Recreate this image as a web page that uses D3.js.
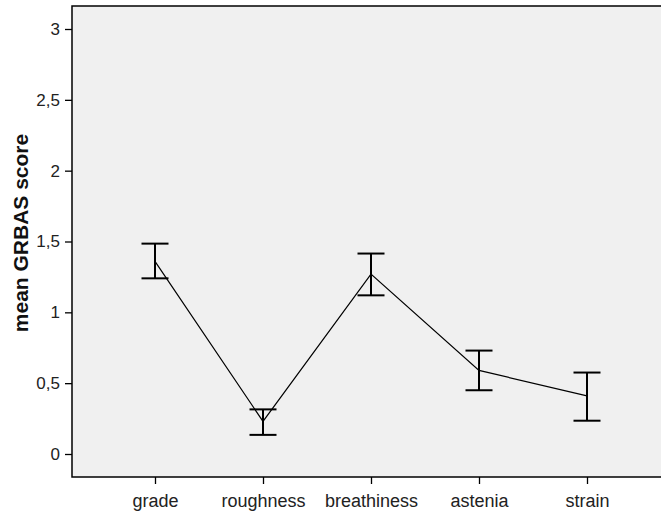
<!DOCTYPE html>
<html>
<head>
<meta charset="utf-8">
<script src="https://cdn.jsdelivr.net/npm/d3@7"></script>
<style>
  body { margin: 0; background: #fff; }
  text { font-family: "Liberation Sans", Arial, sans-serif; }
</style>
</head>
<body>
<script>
// Data
const categories = ["grade", "roughness", "breathiness", "astenia", "strain"];
const means = [1.36, 0.23, 1.27, 0.59, 0.41];
const lower = [1.24, 0.135, 1.12, 0.45, 0.235];
const upper = [1.485, 0.315, 1.415, 0.73, 0.575];
const yTicks = [0, 0.5, 1, 1.5, 2, 2.5, 3];

const width = 661, height = 517;
const plot = {left: 72, top: 6, right: 672, bottom: 477};

var svg = d3.select("body").append("svg")
    .attr("width", width)
    .attr("height", height);

const x = d3.scalePoint()
    .domain(categories)
    .range([155, 587]);

const y = d3.scaleLinear()
    .domain([0, 3])
    .range([454, 29]);

// plot background
svg.append("rect")
    .attr("x", plot.left)
    .attr("y", plot.top)
    .attr("width", plot.right - plot.left)
    .attr("height", plot.bottom - plot.top)
    .attr("fill", "#f0f0f0")
    .attr("stroke", "#000")
    .attr("stroke-width", 1.5);

// y axis
var yAxis = svg.append("g")
    .attr("transform", `translate(${plot.left},0)`)
    .call(d3.axisLeft(y).tickValues(yTicks).tickSize(7).tickPadding(5)
        .tickFormat(d => String(d).replace(".", ",")));
yAxis.select(".domain").remove();
yAxis.selectAll("line").attr("stroke", "#000").attr("stroke-width", 1.3);
yAxis.selectAll("text").attr("font-size", 17).attr("fill", "#222")
    .attr("font-family", "Liberation Sans, Arial, sans-serif");

// x axis
var xAxis = svg.append("g")
    .attr("transform", `translate(0,${plot.bottom})`)
    .call(d3.axisBottom(x).tickSize(7).tickPadding(10));
xAxis.select(".domain").remove();
xAxis.selectAll("line").attr("stroke", "#000").attr("stroke-width", 1.3);
xAxis.selectAll("text").attr("font-size", 18).attr("fill", "#222")
    .attr("font-family", "Liberation Sans, Arial, sans-serif");

// y title
svg.append("text")
    .attr("transform", `translate(28,233) rotate(-90)`)
    .attr("text-anchor", "middle")
    .attr("font-size", 21)
    .attr("font-weight", "bold")
    .attr("fill", "#111")
    .text("mean GRBAS score");

// mean line
const line = d3.line()
    .x((d, i) => x(categories[i]))
    .y(d => y(d));

svg.append("path")
    .datum(means)
    .attr("d", line)
    .attr("fill", "none")
    .attr("stroke", "#000")
    .attr("stroke-width", 1.2);

// error bars
const capHalf = 13.5;
const bars = svg.append("g")
    .selectAll("g")
    .data(categories)
    .enter()
    .append("g");

bars.append("line")
    .attr("x1", d => x(d)).attr("x2", d => x(d))
    .attr("y1", (d, i) => y(lower[i]))
    .attr("y2", (d, i) => y(upper[i]))
    .attr("stroke", "#000").attr("stroke-width", 2);

bars.append("line")
    .attr("x1", d => x(d) - capHalf).attr("x2", d => x(d) + capHalf)
    .attr("y1", (d, i) => y(upper[i]))
    .attr("y2", (d, i) => y(upper[i]))
    .attr("stroke", "#000").attr("stroke-width", 2);

bars.append("line")
    .attr("x1", d => x(d) - capHalf).attr("x2", d => x(d) + capHalf)
    .attr("y1", (d, i) => y(lower[i]))
    .attr("y2", (d, i) => y(lower[i]))
    .attr("stroke", "#000").attr("stroke-width", 2);
</script>
</body>
</html>
